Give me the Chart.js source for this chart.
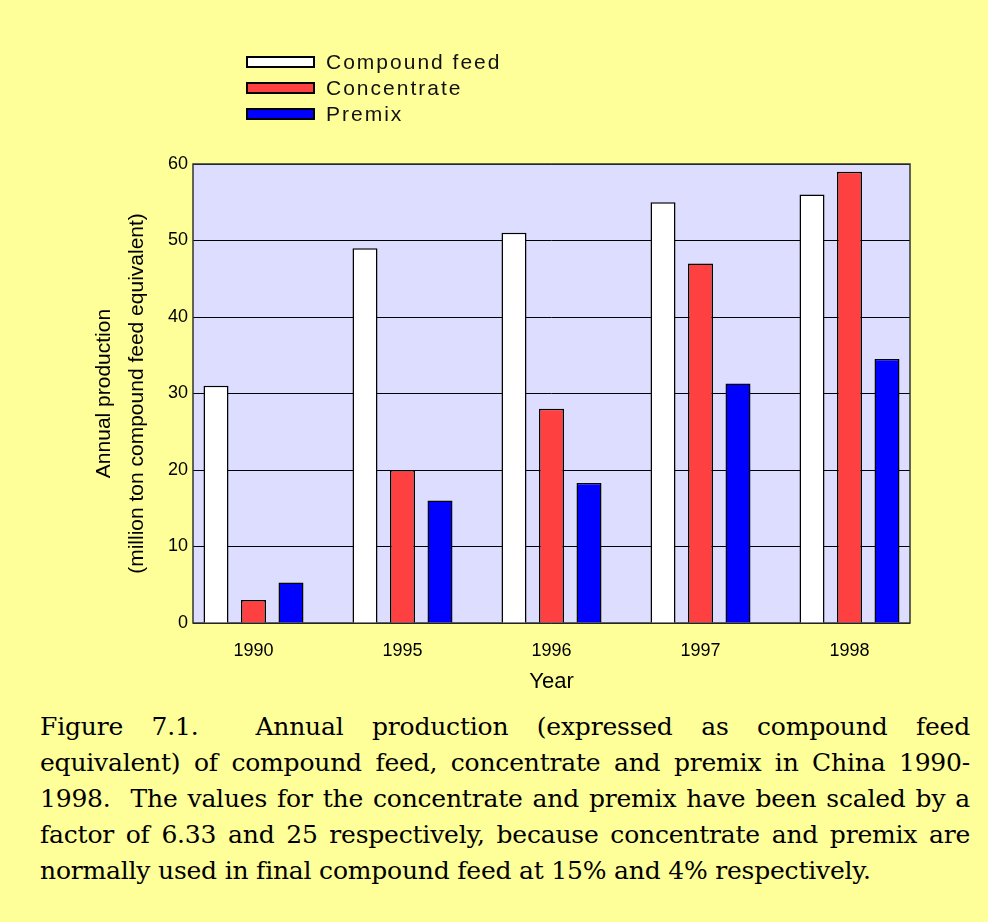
<!DOCTYPE html>
<html>
<head>
<meta charset="utf-8">
<script src="https://cdn.jsdelivr.net/npm/chart.js@4"></script>
<style>
  html, body { margin: 0; padding: 0; background: #ffff99; }
  body { width: 988px; height: 922px; position: relative; overflow: hidden; }
  #wrap { position: absolute; left: 0; top: 0; width: 988px; height: 700px; }
  #legend { position: absolute; left: 246px; top: 49px; font-family: "Liberation Sans", Arial, sans-serif;
            font-size: 21px; letter-spacing: 2px; color: #111; }
  .item { display: flex; align-items: center; height: 26px; }
  .swatch { width: 65px; height: 8px; border: 2px solid #000; margin-right: 11px; }
  #caption { position: absolute; left: 40px; top: 709px; width: 930px; font-family: "DejaVu Serif", serif;
             font-size: 25px; letter-spacing: -0.2px; line-height: 36px; color: #000; }
  .line { text-align: justify; text-align-last: justify; }
  .line.last { text-align: left; text-align-last: left; }
</style>
</head>
<body>
<div id="wrap"><canvas id="chart" width="988" height="700"></canvas></div>
<div id="legend"></div>
<div id="caption">
  <div class="line">Figure 7.1.&nbsp; Annual production (expressed as compound feed</div>
  <div class="line">equivalent) of compound feed, concentrate and premix in China 1990-</div>
  <div class="line">1998.&nbsp; The values for the concentrate and premix have been scaled by a</div>
  <div class="line">factor of 6.33 and 25 respectively, because concentrate and premix are</div>
  <div class="line last">normally used in final compound feed at 15% and 4% respectively.</div>
</div>
<script>
// values (million ton compound feed equivalent)
const years = ['1990', '1995', '1996', '1997', '1998'];
const compoundFeed = [31, 49, 51, 55, 56];
const concentrate = [3, 20, 28, 47, 59];
const premix = [5.3, 16, 18.3, 31.3, 34.5];

const seriesNames = ['Compound feed', 'Concentrate', 'Premix'];
const seriesColors = ['#ffffff', '#ff4040', '#0000ff'];
const seriesValues = [compoundFeed, concentrate, premix];

Chart.defaults.font.family = '"Liberation Sans", Arial, sans-serif';
Chart.defaults.color = '#000';

// lavender plot area with a dark frame
const plotFrame = {
  id: 'plotFrame',
  beforeDraw(chart) {
    const { ctx, chartArea: a } = chart;
    ctx.save();
    ctx.fillStyle = '#ddddff';
    ctx.fillRect(a.left, a.top, a.width, a.height);
    ctx.restore();
  },
  beforeDatasetsDraw(chart) {
    const { ctx, chartArea: a } = chart;
    ctx.save();
    ctx.strokeStyle = '#333';
    ctx.lineWidth = 1.5;
    ctx.strokeRect(a.left, a.top, a.width, a.height);
    ctx.restore();
  }
};

const datasets = seriesValues.map((vals, k) => ({
  label: seriesNames[k],
  data: vals.map((v, i) => ({ x: i, y: v })),
  backgroundColor: seriesColors[k],
  borderColor: '#000',
  borderWidth: 1.5,
  categoryPercentage: 0.755,
  barPercentage: 0.667
}));

new Chart(document.getElementById('chart'), {
  type: 'bar',
  data: { datasets },
  options: {
    responsive: false,
    animation: false,
    layout: { padding: { left: 0, right: 78, top: 164, bottom: 0 } },
    plugins: { legend: { display: false }, tooltip: { enabled: false } },
    scales: {
      x: {
        type: 'linear',
        offset: false,
        min: -0.406,
        max: 4.406,
        grid: { display: false },
        border: { display: false },
        afterBuildTicks: s => { s.ticks = years.map((_, i) => ({ value: i })); },
        ticks: { callback: v => years[v], font: { size: 18 }, padding: 9, maxRotation: 0, autoSkip: false },
        title: { display: true, text: 'Year', font: { size: 22 }, padding: { top: 0, bottom: 5 } },
        afterFit: s => { s.height = 77; }
      },
      y: {
        min: 0,
        max: 60,
        ticks: { stepSize: 10, font: { size: 18 }, padding: 5 },
        grid: { color: '#000', lineWidth: 1, drawTicks: false },
        border: { display: false },
        title: {
          display: true,
          text: ['Annual production', '(million ton compound feed equivalent)'],
          font: { size: 21, lineHeight: 1.6 },
          padding: { top: 87, bottom: 0 }
        },
        afterFit: s => { s.width = 193; }
      }
    }
  },
  plugins: [plotFrame]
});

// legend as stacked rows like the original
const legend = document.getElementById('legend');
seriesNames.forEach((name, k) => {
  const row = document.createElement('div');
  row.className = 'item';
  const sw = document.createElement('span');
  sw.className = 'swatch';
  sw.style.background = seriesColors[k];
  row.appendChild(sw);
  row.appendChild(document.createTextNode(name));
  legend.appendChild(row);
});
</script>
</body>
</html>
